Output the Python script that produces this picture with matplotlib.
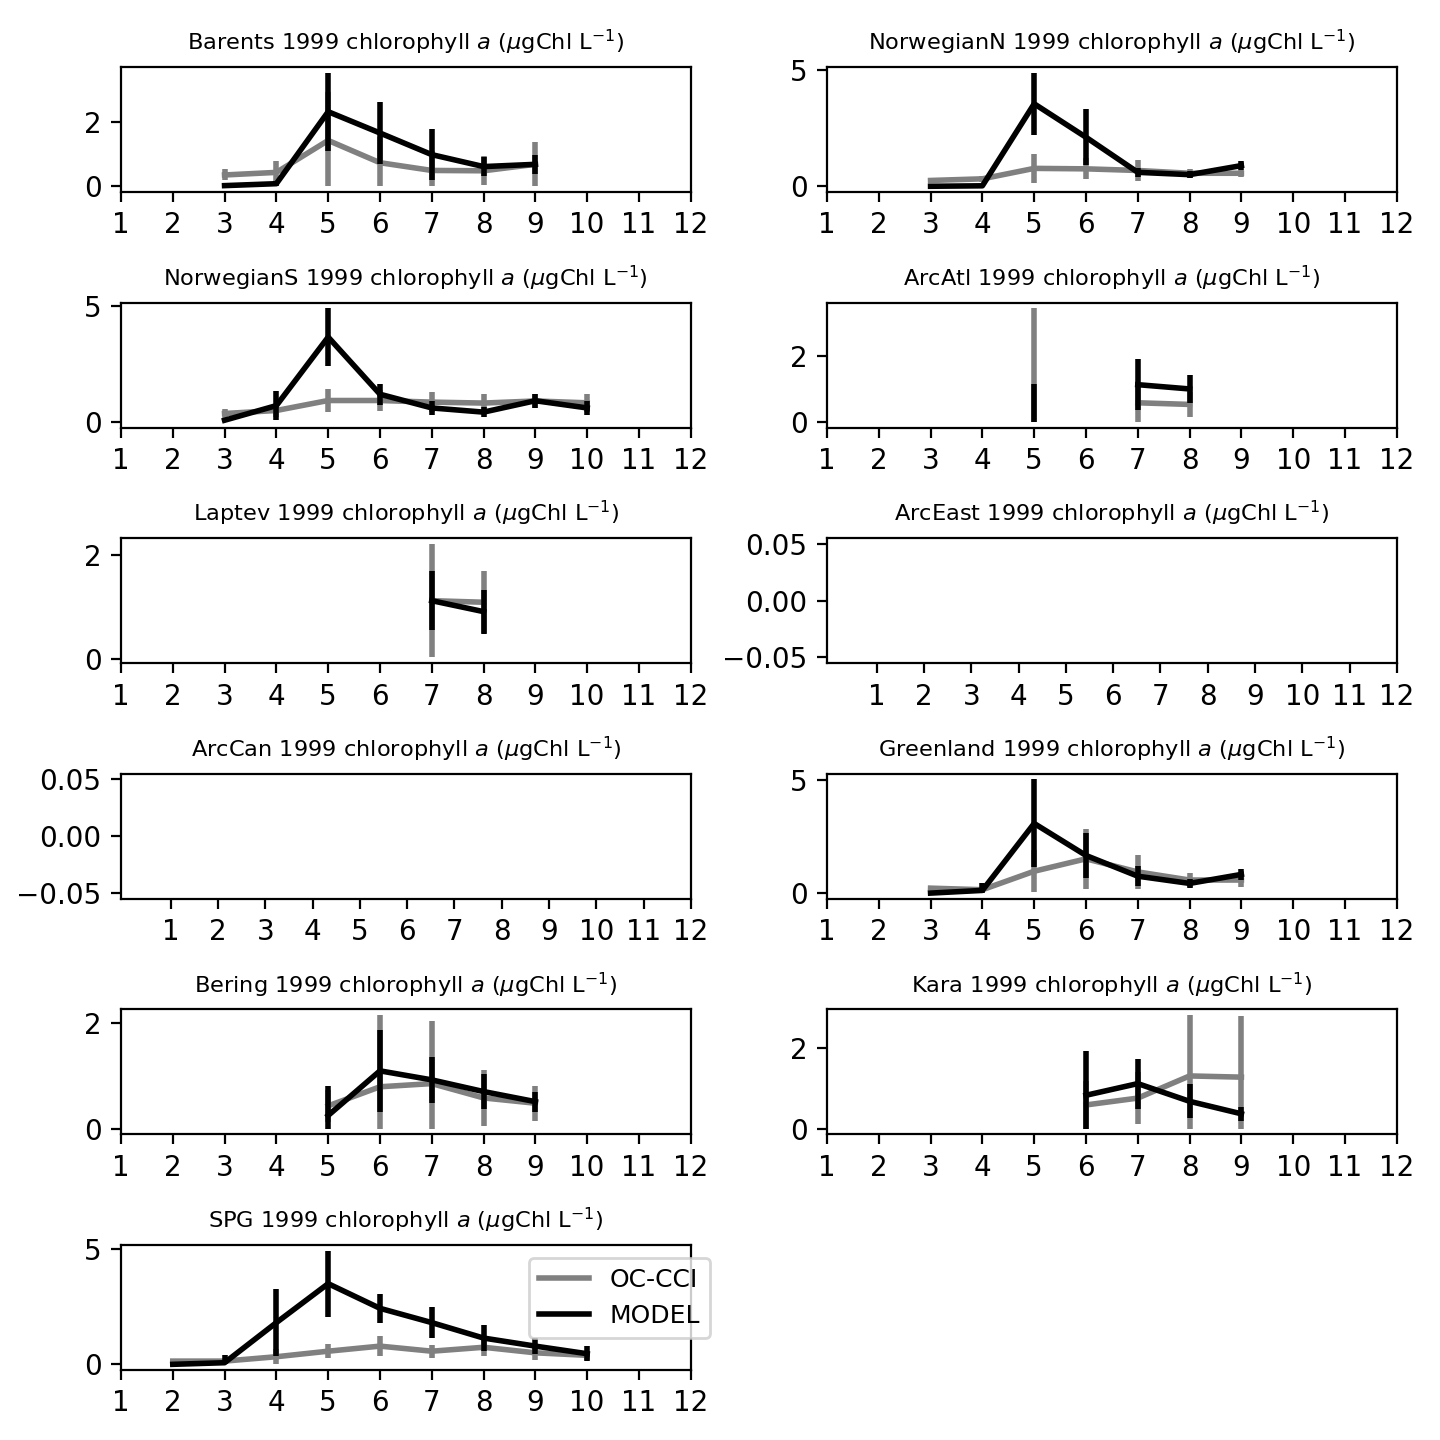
import numpy as np
import matplotlib
matplotlib.use('Agg')
import matplotlib.pyplot as plt
from matplotlib.ticker import MaxNLocator

nan = np.nan
months = np.arange(1, 13)

# monthly means and std (OC-CCI = obs, MODEL = mod), 1999
regions = ['Barents', 'NorwegianN', 'NorwegianS', 'ArcAtl', 'Laptev', 'ArcEast',
           'ArcCan', 'Greenland', 'Bering', 'Kara', 'SPG']

barents_obs = [nan, nan, 0.35, 0.43, 1.42, 0.73, 0.49, 0.48, 0.68, nan, nan, nan]
barents_obs_sd = [nan, nan, 0.17, 0.35, 1.50, 0.80, 0.60, 0.45, 0.69, nan, nan, nan]
barents_mod = [nan, nan, 0.02, 0.08, 2.31, 1.65, 0.98, 0.61, 0.68, nan, nan, nan]
barents_mod_sd = [nan, nan, 0.03, 0.07, 1.21, 0.95, 0.80, 0.30, 0.30, nan, nan, nan]

norwn_obs = [nan, nan, 0.25, 0.32, 0.77, 0.75, 0.68, 0.56, 0.56, nan, nan, nan]
norwn_obs_sd = [nan, nan, 0.12, 0.12, 0.63, 0.45, 0.47, 0.20, 0.14, nan, nan, nan]
norwn_mod = [nan, nan, 0.00, 0.02, 3.55, 2.11, 0.60, 0.50, 0.89, nan, nan, nan]
norwn_mod_sd = [nan, nan, 0.03, 0.05, 1.34, 1.20, 0.20, 0.15, 0.20, nan, nan, nan]

norws_obs = [nan, nan, 0.36, 0.49, 0.92, 0.92, 0.85, 0.81, 0.90, 0.82, nan, nan]
norws_obs_sd = [nan, nan, 0.20, 0.30, 0.49, 0.45, 0.42, 0.38, 0.30, 0.40, nan, nan]
norws_mod = [nan, nan, 0.07, 0.70, 3.65, 1.19, 0.60, 0.42, 0.91, 0.60, nan, nan]
norws_mod_sd = [nan, nan, 0.10, 0.63, 1.24, 0.46, 0.30, 0.20, 0.30, 0.30, nan, nan]

arcatl_obs = [nan, nan, nan, nan, 0.90, nan, 0.58, 0.53, nan, nan, nan, nan]
arcatl_obs_sd = [nan, nan, nan, nan, 2.55, nan, 0.60, 0.38, nan, nan, nan, nan]
arcatl_mod = [nan, nan, nan, nan, 0.50, nan, 1.13, 1.00, nan, nan, nan, nan]
arcatl_mod_sd = [nan, nan, nan, nan, 0.66, nan, 0.78, 0.43, nan, nan, nan, nan]

laptev_obs = [nan, nan, nan, nan, nan, nan, 1.12, 1.09, nan, nan, nan, nan]
laptev_obs_sd = [nan, nan, nan, nan, nan, nan, 1.09, 0.59, nan, nan, nan, nan]
laptev_mod = [nan, nan, nan, nan, nan, nan, 1.12, 0.91, nan, nan, nan, nan]
laptev_mod_sd = [nan, nan, nan, nan, nan, nan, 0.57, 0.42, nan, nan, nan, nan]

empty = [nan] * 12

greenl_obs = [nan, nan, 0.22, 0.15, 0.97, 1.52, 0.94, 0.58, 0.58, nan, nan, nan]
greenl_obs_sd = [nan, nan, 0.10, 0.10, 0.93, 1.33, 0.75, 0.30, 0.30, nan, nan, nan]
greenl_mod = [nan, nan, 0.00, 0.12, 3.09, 1.67, 0.75, 0.43, 0.83, nan, nan, nan]
greenl_mod_sd = [nan, nan, 0.03, 0.35, 1.95, 1.00, 0.45, 0.20, 0.25, nan, nan, nan]

bering_obs = [nan, nan, nan, nan, 0.43, 0.79, 0.85, 0.58, 0.48, nan, nan, nan]
bering_obs_sd = [nan, nan, nan, nan, 0.30, 1.35, 1.18, 0.52, 0.33, nan, nan, nan]
bering_mod = [nan, nan, nan, nan, 0.25, 1.09, 0.92, 0.70, 0.51, nan, nan, nan]
bering_mod_sd = [nan, nan, nan, nan, 0.55, 0.77, 0.44, 0.33, 0.19, nan, nan, nan]

kara_obs = [nan, nan, nan, nan, nan, 0.59, 0.76, 1.31, 1.28, nan, nan, nan]
kara_obs_sd = [nan, nan, nan, nan, nan, 0.60, 0.64, 1.51, 1.51, nan, nan, nan]
kara_mod = [nan, nan, nan, nan, nan, 0.83, 1.12, 0.68, 0.37, nan, nan, nan]
kara_mod_sd = [nan, nan, nan, nan, nan, 1.11, 0.62, 0.42, 0.17, nan, nan, nan]

spg_obs = [nan, 0.14, 0.14, 0.33, 0.57, 0.79, 0.57, 0.74, 0.50, 0.39, nan, nan]
spg_obs_sd = [nan, 0.10, 0.10, 0.33, 0.30, 0.44, 0.28, 0.40, 0.30, 0.20, nan, nan]
spg_mod = [nan, 0.00, 0.07, 1.81, 3.50, 2.43, 1.81, 1.14, 0.79, 0.46, nan, nan]
spg_mod_sd = [nan, 0.03, 0.35, 1.45, 1.43, 0.64, 0.66, 0.57, 0.35, 0.32, nan, nan]

obs = [barents_obs, norwn_obs, norws_obs, arcatl_obs, laptev_obs, empty,
       empty, greenl_obs, bering_obs, kara_obs, spg_obs]
obs_sd = [barents_obs_sd, norwn_obs_sd, norws_obs_sd, arcatl_obs_sd, laptev_obs_sd, empty,
          empty, greenl_obs_sd, bering_obs_sd, kara_obs_sd, spg_obs_sd]
mod = [barents_mod, norwn_mod, norws_mod, arcatl_mod, laptev_mod, empty,
       empty, greenl_mod, bering_mod, kara_mod, spg_mod]
mod_sd = [barents_mod_sd, norwn_mod_sd, norws_mod_sd, arcatl_mod_sd, laptev_mod_sd, empty,
          empty, greenl_mod_sd, bering_mod_sd, kara_mod_sd, spg_mod_sd]


def err(m, s):
    # lower error clipped at zero
    m = np.array(m); s = np.array(s)
    return [np.minimum(s, m), s]


fig, axs = plt.subplots(6, 2, figsize=(7.2, 7.2), dpi=200)
fig.subplots_adjust(left=0.084, right=0.970, top=0.9535, bottom=0.0486,
                    wspace=0.239, hspace=0.885)
axs = axs.flatten()

for i, reg in enumerate(regions):
    ax = axs[i]
    o = np.array(obs[i]); m = np.array(mod[i])
    if np.all(np.isnan(o)) and np.all(np.isnan(m)):
        ax.set_xlim(-0.055, 12)
        ax.set_ylim(-0.055, 0.055)
    else:
        ax.plot(months, o, color='gray', lw=2, label='OC-CCI')
        ax.errorbar(months, o, yerr=err(obs[i], obs_sd[i]), fmt='none', ecolor='gray', elinewidth=2)
        ax.plot(months, m, color='k', lw=2, label='MODEL')
        ax.errorbar(months, m, yerr=err(mod[i], mod_sd[i]), fmt='none', ecolor='k', elinewidth=2)
        ax.set_xlim(1, 12)
    ax.set_xticks(months)
    ax.yaxis.set_major_locator(MaxNLocator(nbins=2, steps=[1, 2, 2.5, 5, 10]))
    ax.set_title(reg + r' 1999 chlorophyll $a$ ($\mu$gChl L$^{-1}$)', fontsize=8.1)

axs[10].legend(loc='upper right', bbox_to_anchor=(1.055, 1.0), fontsize=9)
axs[11].remove()

plt.savefig('out.png')
